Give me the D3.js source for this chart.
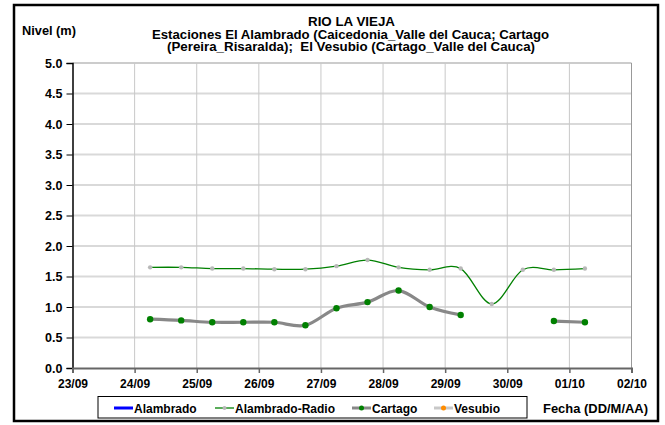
<!DOCTYPE html>
<html><head><meta charset="utf-8">
<script src="https://cdn.jsdelivr.net/npm/d3@7"></script>
<style>body{margin:0;background:#fff}svg{display:block}text{font-family:"Liberation Sans",Arial,sans-serif;font-weight:bold}</style>
</head><body><svg id="c" width="665" height="425"></svg>
<script>
const times = ["2011-09-24T06:00","2011-09-24T18:00","2011-09-25T06:00","2011-09-25T18:00","2011-09-26T06:00","2011-09-26T18:00","2011-09-27T06:00","2011-09-27T18:00","2011-09-28T06:00","2011-09-28T18:00","2011-09-29T06:00","2011-09-29T18:00","2011-09-30T06:00","2011-09-30T18:00","2011-10-01T06:00"];
const alambrado = [];
const alambradoRadio = [1.65,1.65,1.63,1.63,1.62,1.62,1.67,1.77,1.65,1.61,1.63,1.05,1.61,1.61,1.63];
const cartago = [0.80,0.78,0.75,0.75,0.75,0.70,0.98,1.08,1.27,1.00,0.87,null,null,0.77,0.75];
const vesubio = [];
const yTicks = [0,0.5,1,1.5,2,2.5,3,3.5,4,4.5,5];
const xDomain = ["2011-09-23T00:00","2011-10-02T00:00"];
const titleLines = ["RIO LA VIEJA","Estaciones El Alambrado (Caicedonia_Valle del Cauca; Cartago","(Pereira_Risaralda);  El Vesubio (Cartago_Valle del Cauca)"];
const legendItems = ["Alambrado","Alambrado-Radio","Cartago","Vesubio"];

const svg = d3.select("#c");
const parse = d3.utcParse("%Y-%m-%dT%H:%M");
const L=72.5,R=631.5,T=63,B=368;
const x = d3.scaleUtc().domain(xDomain.map(parse)).range([L,R]);
const y = d3.scaleLinear().domain([0,5]).range([B,T]);

// frame
svg.append("rect").attr("x",14).attr("y",5).attr("width",644).attr("height",416).attr("fill","#fff").attr("stroke","#000").attr("stroke-width",2.5);

// horizontal grid
svg.append("g").selectAll("line").data(yTicks.filter(d=>d>0)).join("line")
 .attr("x1",L).attr("x2",R).attr("y1",d=>y(d)).attr("y2",d=>y(d))
 .attr("stroke",d=>d===5?"#999":"#d9d9d9").attr("stroke-width",d=>d===5?1:2);
// vertical grid
const days = x.ticks(d3.utcDay.every(1));
svg.append("g").selectAll("line").data(days.slice(1)).join("line")
 .attr("x1",d=>x(d)).attr("x2",d=>x(d)).attr("y1",T).attr("y2",B)
 .attr("stroke",(d,i)=>i===days.length-2?"#999":"#c8c8c8").attr("stroke-width",1);

// axes
const ya = svg.append("g").attr("transform",`translate(${L},0)`)
 .call(d3.axisLeft(y).tickValues(yTicks).tickFormat(d3.format(".1f")).tickSize(6).tickPadding(4));
ya.select(".domain").attr("stroke","#000").attr("stroke-width",1.5);
ya.selectAll(".tick line").attr("stroke","#000");
ya.selectAll("text").attr("font-size",12.5).attr("fill","#000").attr("font-family","Liberation Sans, Arial").attr("font-weight","bold");
const xa = svg.append("g").attr("transform",`translate(0,${B})`)
 .call(d3.axisBottom(x).tickValues(days).tickFormat(d3.utcFormat("%d/%m")).tickSize(5).tickPadding(6));
xa.select(".domain").attr("stroke","#666").attr("stroke-width",2);
xa.selectAll(".tick line").attr("stroke","#666").attr("stroke-width",1.5);
xa.selectAll("text").attr("font-size",12).attr("fill","#000").attr("font-family","Liberation Sans, Arial").attr("font-weight","bold");

const tp = times.map(parse);
const curve = d3.curveCardinal.tension(0);
const line = d3.line().defined(d=>d[1]!=null).x(d=>x(d[0])).y(d=>y(d[1])).curve(curve);

// Alambrado-Radio
const ar = tp.map((t,i)=>[t,alambradoRadio[i]]);
svg.append("path").attr("d",line(ar)).attr("fill","none").attr("stroke","#008000").attr("stroke-width",1.3);
svg.append("g").selectAll("circle").data(ar.filter(d=>d[1]!=null)).join("circle")
 .attr("cx",d=>x(d[0])).attr("cy",d=>y(d[1])).attr("r",2.2).attr("fill","#b8b8b8");
// Cartago
const ca = tp.map((t,i)=>[t,cartago[i]]);
svg.append("path").attr("d",line(ca)).attr("fill","none").attr("stroke","#888").attr("stroke-width",3.2);
svg.append("g").selectAll("circle").data(ca.filter(d=>d[1]!=null)).join("circle")
 .attr("cx",d=>x(d[0])).attr("cy",d=>y(d[1])).attr("r",3.2).attr("fill","#008000");

// titles
const tl = [{x:308,y:25.5,w:87},{x:152,y:38.5,w:397},{x:167,y:51,w:368}];
svg.append("g").selectAll("text").data(titleLines).join("text")
 .attr("x",(d,i)=>tl[i].x).attr("y",(d,i)=>tl[i].y).attr("font-size",12.5)
 .attr("textLength",(d,i)=>tl[i].w).attr("lengthAdjust","spacingAndGlyphs")
 .style("white-space","pre").text(d=>d);
svg.append("text").attr("x",22).attr("y",35).attr("font-size",12.5).attr("textLength",54).attr("lengthAdjust","spacingAndGlyphs").text("Nivel (m)");
svg.append("text").attr("x",543).attr("y",413).attr("font-size",12.5).attr("textLength",105).attr("lengthAdjust","spacingAndGlyphs").text("Fecha (DD/M/AA)");

// legend
svg.append("rect").attr("x",98).attr("y",396.5).attr("width",429).attr("height",21.5).attr("fill","#fff").attr("stroke","#000").attr("stroke-width",1);
const ls=[{x:114,c:"#0000ff",w:3,m:null},{x:215,c:"#008000",w:1.3,m:"#b8b8b8",mr:2},{x:352,c:"#888",w:3,m:"#008000",mr:2.5},{x:434,c:"#c8c8c8",w:3,m:"#ff8c00",mr:2.5}];
const items = legendItems.map((n,i)=>Object.assign({name:n},ls[i]));
const lg = svg.append("g").selectAll("g").data(items).join("g").attr("transform",d=>`translate(${d.x},408)`);
lg.append("line").attr("x1",0).attr("x2",19).attr("stroke",d=>d.c).attr("stroke-width",d=>d.w);
lg.filter(d=>d.m).append("circle").attr("cx",9.5).attr("r",d=>d.mr).attr("fill",d=>d.m);
lg.append("text").attr("x",20).attr("y",5).attr("font-size",12).text(d=>d.name);
</script></body></html>
